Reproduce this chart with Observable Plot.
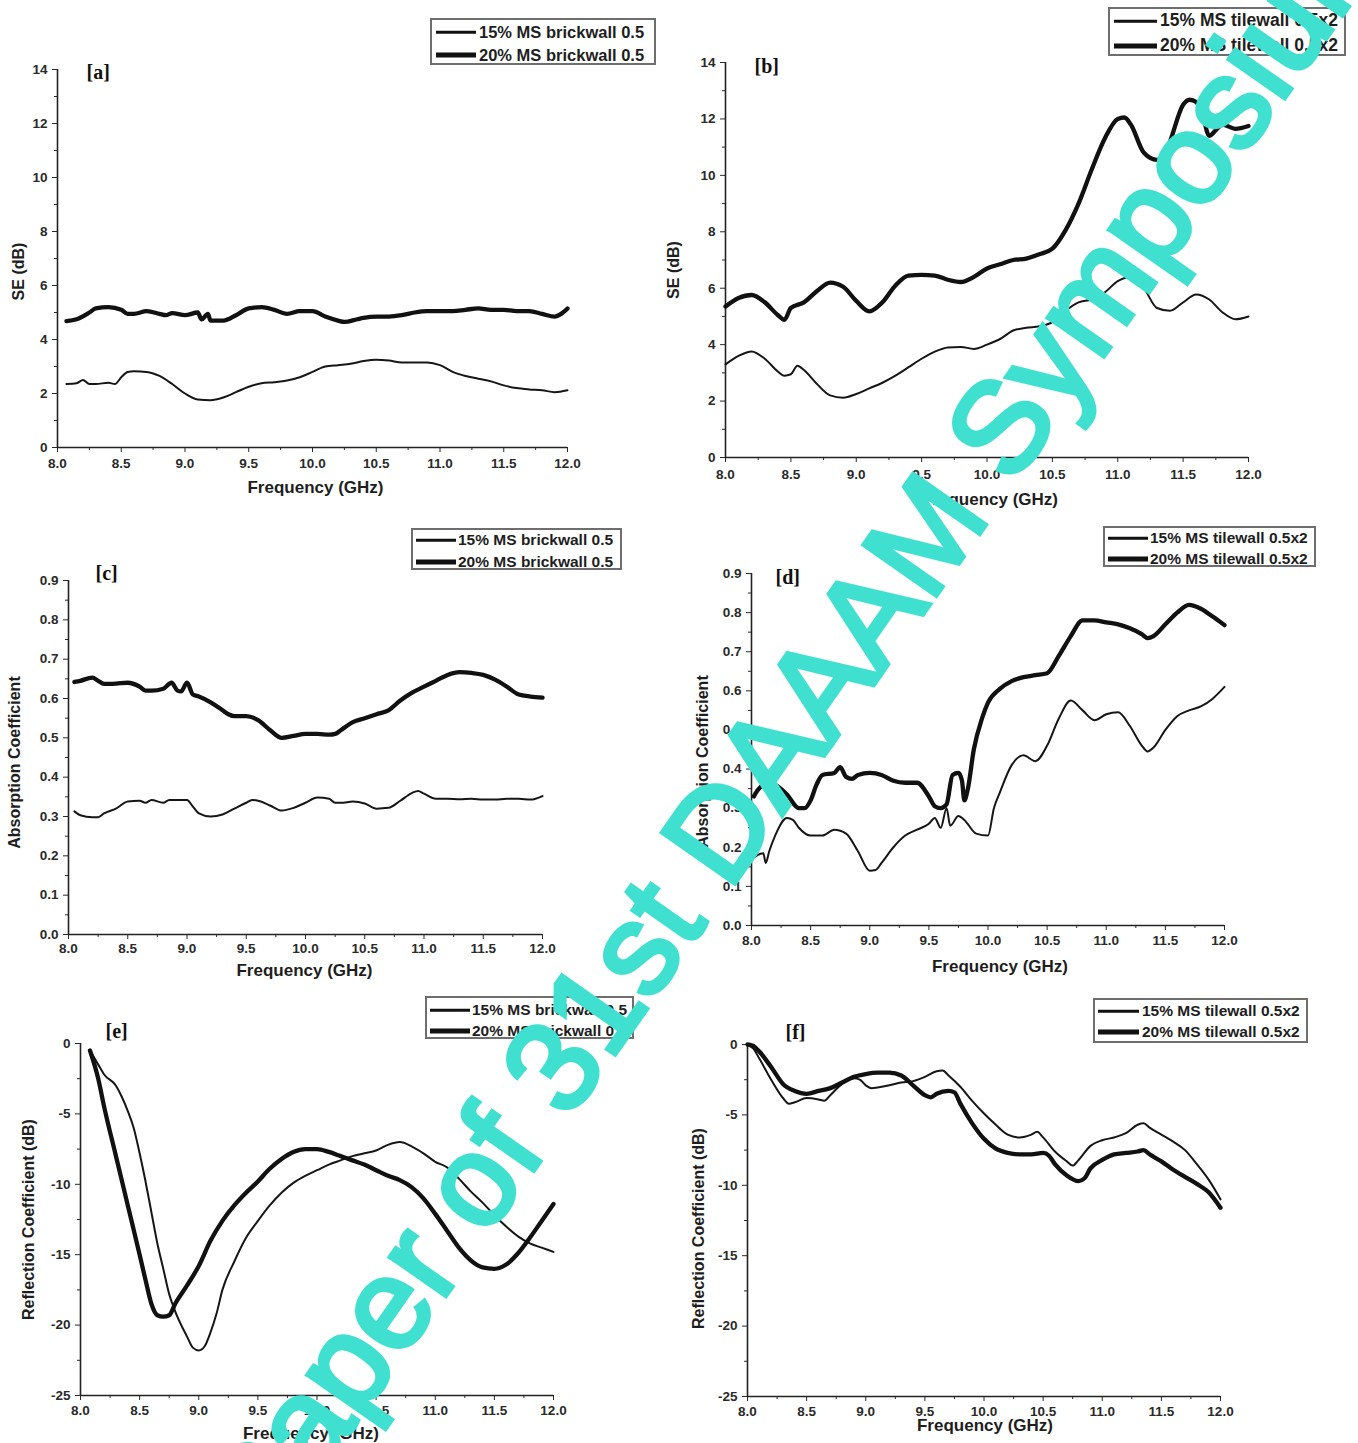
<!DOCTYPE html>
<html><head><meta charset="utf-8">
<script src="https://cdn.jsdelivr.net/npm/d3@7"></script>
<script src="https://cdn.jsdelivr.net/npm/@observablehq/plot@0.6"></script>
<style>
body{margin:0;background:#fff;}
#wrap{position:relative;width:1358px;height:1443px;overflow:hidden;background:#fff;font-family:"Liberation Sans",Arial,sans-serif;}
.panel{position:absolute;}
.legend{position:absolute;border:2px solid #6e6e6e;background:#fff;box-sizing:border-box;overflow:hidden;}
.row{position:absolute;white-space:nowrap;font-weight:bold;color:#1e1e1e;line-height:1;transform:translateY(-50%);}
.sw{position:absolute;background:#111;transform:translateY(-50%);}
#wm{position:absolute;left:0;top:0;pointer-events:none;}
</style></head><body><div id="wrap"></div>
<script>
// ---------- data ----------
const xMajor = [8.0, 8.5, 9.0, 9.5, 10.0, 10.5, 11.0, 11.5, 12.0];
const xMinor = [8.25, 8.75, 9.25, 9.75, 10.25, 10.75, 11.25, 11.75];
const seMajor = [0, 2, 4, 6, 8, 10, 12, 14];
const seMinor = [1, 3, 5, 7, 9, 11, 13];
const absMajor = [0, 0.1, 0.2, 0.3, 0.4, 0.5, 0.6, 0.7, 0.8, 0.9];
const absMinor = [0.05, 0.15, 0.25, 0.35, 0.45, 0.55, 0.65, 0.75, 0.85];
const refMajor = [0, -5, -10, -15, -20, -25];
const refMinor = [-2.5, -7.5, -12.5, -17.5, -22.5];

const brickLabels = ["15% MS brickwall 0.5", "20% MS brickwall 0.5"];
const tileLabels = ["15% MS tilewall 0.5x2", "20% MS tilewall 0.5x2"];

// [a] SE brickwall
const a15 = [[8.07,2.35],[8.15,2.38],[8.2,2.5],[8.25,2.35],[8.3,2.35],[8.4,2.4],[8.45,2.35],[8.5,2.6],[8.55,2.8],[8.6,2.82],[8.7,2.8],[8.8,2.65],[8.9,2.35],[9.0,2.0],[9.1,1.78],[9.2,1.75],[9.3,1.85],[9.4,2.05],[9.5,2.25],[9.6,2.38],[9.7,2.42],[9.8,2.48],[9.9,2.6],[10.0,2.8],[10.1,3.0],[10.2,3.05],[10.3,3.1],[10.4,3.2],[10.5,3.25],[10.6,3.22],[10.7,3.15],[10.8,3.15],[10.9,3.15],[11.0,3.05],[11.1,2.8],[11.2,2.65],[11.3,2.55],[11.4,2.45],[11.5,2.3],[11.6,2.2],[11.7,2.15],[11.8,2.12],[11.9,2.05],[12.0,2.12]];
const a20 = [[8.07,4.68],[8.15,4.75],[8.25,5.0],[8.3,5.15],[8.4,5.2],[8.5,5.1],[8.55,4.95],[8.6,4.95],[8.7,5.05],[8.8,4.95],[8.85,4.9],[8.9,4.98],[9.0,4.9],[9.1,5.0],[9.13,4.75],[9.18,4.95],[9.2,4.7],[9.3,4.7],[9.4,4.9],[9.5,5.15],[9.6,5.2],[9.7,5.1],[9.8,4.95],[9.9,5.05],[10.0,5.05],[10.1,4.85],[10.2,4.7],[10.25,4.65],[10.35,4.75],[10.4,4.8],[10.5,4.85],[10.6,4.85],[10.7,4.9],[10.8,5.0],[10.9,5.05],[11.0,5.05],[11.1,5.05],[11.2,5.1],[11.3,5.15],[11.4,5.1],[11.5,5.1],[11.6,5.05],[11.7,5.05],[11.8,4.95],[11.9,4.85],[11.95,4.95],[12.0,5.15]];

// [b] SE tilewall
const b15 = [[8.0,3.3],[8.1,3.6],[8.2,3.76],[8.3,3.5],[8.4,3.05],[8.45,2.9],[8.5,2.95],[8.55,3.25],[8.6,3.1],[8.7,2.6],[8.8,2.2],[8.9,2.12],[9.0,2.25],[9.1,2.45],[9.2,2.65],[9.3,2.9],[9.4,3.2],[9.5,3.5],[9.6,3.75],[9.7,3.9],[9.8,3.92],[9.9,3.85],[10.0,4.0],[10.1,4.2],[10.2,4.5],[10.3,4.6],[10.4,4.65],[10.5,4.8],[10.6,5.2],[10.7,5.5],[10.8,5.6],[10.9,5.85],[11.0,6.25],[11.1,6.4],[11.2,6.0],[11.3,5.3],[11.4,5.2],[11.5,5.5],[11.6,5.78],[11.7,5.6],[11.8,5.15],[11.9,4.9],[12.0,5.0]];
const b20 = [[8.0,5.35],[8.1,5.65],[8.2,5.76],[8.3,5.5],[8.4,5.05],[8.45,4.88],[8.5,5.3],[8.6,5.5],[8.7,5.9],[8.8,6.2],[8.9,6.05],[9.0,5.55],[9.1,5.18],[9.2,5.5],[9.3,6.1],[9.4,6.45],[9.5,6.47],[9.6,6.45],[9.7,6.3],[9.8,6.22],[9.9,6.4],[10.0,6.7],[10.1,6.85],[10.2,7.0],[10.3,7.05],[10.4,7.2],[10.5,7.4],[10.6,8.05],[10.7,9.0],[10.8,10.2],[10.9,11.3],[11.0,12.0],[11.05,12.05],[11.1,11.8],[11.2,10.8],[11.3,10.55],[11.35,10.6],[11.4,11.2],[11.5,12.5],[11.55,12.68],[11.6,12.6],[11.65,12.1],[11.7,11.4],[11.75,11.6],[11.8,11.8],[11.9,11.65],[12.0,11.75]];

// [c] absorption brickwall
const c15 = [[8.05,0.313],[8.1,0.303],[8.2,0.298],[8.25,0.298],[8.3,0.308],[8.4,0.32],[8.5,0.338],[8.6,0.34],[8.65,0.335],[8.7,0.342],[8.8,0.335],[8.85,0.342],[9.0,0.342],[9.05,0.325],[9.1,0.308],[9.2,0.3],[9.3,0.305],[9.4,0.32],[9.5,0.335],[9.55,0.342],[9.6,0.34],[9.7,0.328],[9.8,0.315],[9.9,0.322],[10.0,0.335],[10.1,0.348],[10.2,0.345],[10.25,0.335],[10.3,0.335],[10.4,0.338],[10.5,0.333],[10.6,0.32],[10.7,0.322],[10.8,0.34],[10.9,0.36],[10.95,0.365],[11.0,0.358],[11.1,0.345],[11.2,0.345],[11.3,0.344],[11.4,0.345],[11.5,0.343],[11.6,0.343],[11.7,0.345],[11.8,0.345],[11.9,0.343],[12.0,0.352]];
const c20 = [[8.05,0.642],[8.1,0.645],[8.2,0.653],[8.25,0.645],[8.3,0.637],[8.4,0.638],[8.5,0.64],[8.6,0.63],[8.65,0.62],[8.7,0.62],[8.8,0.625],[8.87,0.64],[8.92,0.62],[8.95,0.618],[9.0,0.64],[9.05,0.61],[9.1,0.605],[9.2,0.59],[9.3,0.57],[9.35,0.56],[9.4,0.555],[9.5,0.555],[9.6,0.545],[9.7,0.52],[9.8,0.5],[9.9,0.505],[10.0,0.51],[10.1,0.51],[10.2,0.508],[10.25,0.51],[10.3,0.52],[10.4,0.54],[10.5,0.55],[10.6,0.56],[10.7,0.57],[10.8,0.595],[10.9,0.615],[11.0,0.63],[11.1,0.645],[11.2,0.66],[11.3,0.667],[11.4,0.665],[11.5,0.66],[11.6,0.648],[11.7,0.63],[11.8,0.61],[11.9,0.605],[12.0,0.602]];

// [d] absorption tilewall
const d15 = [[8.02,0.173],[8.05,0.18],[8.1,0.185],[8.12,0.16],[8.15,0.19],[8.2,0.23],[8.3,0.275],[8.35,0.27],[8.4,0.25],[8.5,0.23],[8.6,0.23],[8.7,0.245],[8.8,0.235],[8.9,0.19],[9.0,0.14],[9.05,0.142],[9.1,0.16],[9.2,0.2],[9.3,0.23],[9.4,0.245],[9.5,0.26],[9.55,0.275],[9.6,0.25],[9.65,0.3],[9.68,0.255],[9.75,0.28],[9.8,0.27],[9.9,0.235],[10.0,0.23],[10.05,0.3],[10.1,0.34],[10.2,0.41],[10.3,0.435],[10.4,0.42],[10.5,0.46],[10.6,0.53],[10.7,0.575],[10.8,0.55],[10.9,0.525],[11.0,0.54],[11.1,0.545],[11.2,0.51],[11.3,0.46],[11.35,0.445],[11.4,0.455],[11.5,0.5],[11.6,0.535],[11.7,0.55],[11.8,0.56],[11.9,0.58],[12.0,0.61]];
const d20 = [[8.02,0.33],[8.05,0.345],[8.1,0.36],[8.15,0.365],[8.2,0.36],[8.3,0.335],[8.4,0.3],[8.45,0.3],[8.5,0.32],[8.55,0.36],[8.6,0.385],[8.7,0.39],[8.75,0.405],[8.8,0.38],[8.85,0.375],[8.9,0.385],[9.0,0.39],[9.1,0.385],[9.2,0.37],[9.3,0.365],[9.4,0.365],[9.5,0.33],[9.55,0.305],[9.6,0.3],[9.65,0.31],[9.7,0.385],[9.75,0.39],[9.78,0.37],[9.8,0.32],[9.83,0.35],[9.88,0.45],[9.95,0.53],[10.0,0.57],[10.1,0.605],[10.2,0.625],[10.3,0.635],[10.4,0.64],[10.5,0.645],[10.6,0.69],[10.7,0.74],[10.8,0.78],[10.9,0.78],[11.0,0.775],[11.1,0.77],[11.2,0.76],[11.3,0.745],[11.35,0.735],[11.4,0.74],[11.5,0.77],[11.6,0.8],[11.7,0.82],[11.8,0.81],[11.9,0.79],[12.0,0.768]];

// [e] reflection brickwall
const e15 = [[8.08,-0.5],[8.15,-1.5],[8.2,-2.2],[8.3,-3.0],[8.35,-3.8],[8.4,-4.8],[8.45,-6.0],[8.5,-7.8],[8.55,-9.8],[8.6,-12.0],[8.65,-14.2],[8.7,-16.0],[8.75,-17.8],[8.8,-19.0],[8.9,-20.8],[8.95,-21.6],[9.0,-21.8],[9.05,-21.5],[9.1,-20.5],[9.15,-19.2],[9.2,-17.5],[9.3,-15.5],[9.4,-13.8],[9.5,-12.6],[9.6,-11.5],[9.7,-10.6],[9.8,-9.9],[9.9,-9.4],[10.0,-9.0],[10.1,-8.6],[10.2,-8.3],[10.3,-8.0],[10.4,-7.8],[10.5,-7.6],[10.6,-7.2],[10.7,-7.0],[10.8,-7.3],[10.9,-7.8],[11.0,-8.4],[11.1,-8.8],[11.2,-9.6],[11.3,-10.5],[11.4,-11.3],[11.5,-12.2],[11.6,-13.0],[11.7,-13.7],[11.8,-14.2],[11.9,-14.5],[12.0,-14.8]];
const e20 = [[8.08,-0.5],[8.15,-2.5],[8.2,-4.5],[8.3,-8.0],[8.4,-11.5],[8.5,-15.0],[8.55,-16.8],[8.6,-18.5],[8.65,-19.3],[8.7,-19.4],[8.75,-19.3],[8.8,-18.5],[8.9,-17.2],[9.0,-15.8],[9.1,-14.0],[9.2,-12.6],[9.3,-11.5],[9.4,-10.6],[9.5,-9.8],[9.6,-8.9],[9.7,-8.2],[9.8,-7.7],[9.9,-7.5],[10.0,-7.5],[10.1,-7.7],[10.2,-8.0],[10.3,-8.3],[10.4,-8.6],[10.5,-9.0],[10.6,-9.4],[10.7,-9.7],[10.8,-10.2],[10.9,-11.0],[11.0,-12.1],[11.1,-13.3],[11.2,-14.5],[11.3,-15.4],[11.4,-15.9],[11.5,-16.0],[11.6,-15.7],[11.7,-14.9],[11.8,-13.8],[11.9,-12.6],[12.0,-11.4]];

// [f] reflection tilewall
const f15 = [[8.0,0],[8.05,-0.3],[8.1,-1.0],[8.2,-2.5],[8.3,-3.8],[8.35,-4.2],[8.4,-4.1],[8.5,-3.8],[8.6,-3.9],[8.65,-4.0],[8.7,-3.6],[8.8,-2.8],[8.9,-2.4],[8.95,-2.5],[9.0,-2.9],[9.05,-3.1],[9.1,-3.05],[9.2,-2.9],[9.3,-2.7],[9.4,-2.6],[9.5,-2.3],[9.6,-1.9],[9.65,-1.85],[9.7,-2.2],[9.8,-3.0],[9.9,-4.0],[10.0,-4.9],[10.1,-5.7],[10.2,-6.4],[10.3,-6.6],[10.4,-6.4],[10.45,-6.2],[10.5,-6.6],[10.6,-7.6],[10.7,-8.3],[10.75,-8.6],[10.8,-8.2],[10.9,-7.2],[11.0,-6.8],[11.1,-6.6],[11.2,-6.3],[11.3,-5.7],[11.35,-5.6],[11.4,-5.9],[11.5,-6.4],[11.6,-6.9],[11.7,-7.5],[11.8,-8.5],[11.9,-9.6],[12.0,-11.0]];
const f20 = [[8.0,0],[8.05,-0.1],[8.1,-0.5],[8.2,-1.6],[8.3,-2.8],[8.4,-3.3],[8.5,-3.5],[8.6,-3.3],[8.7,-3.1],[8.8,-2.7],[8.9,-2.3],[9.0,-2.1],[9.1,-2.0],[9.2,-2.0],[9.3,-2.2],[9.4,-2.9],[9.5,-3.6],[9.55,-3.75],[9.6,-3.5],[9.7,-3.3],[9.75,-3.4],[9.8,-4.2],[9.9,-5.6],[10.0,-6.7],[10.1,-7.4],[10.2,-7.7],[10.3,-7.8],[10.4,-7.8],[10.5,-7.7],[10.55,-7.9],[10.6,-8.5],[10.7,-9.3],[10.8,-9.7],[10.85,-9.5],[10.9,-8.8],[11.0,-8.2],[11.1,-7.8],[11.2,-7.7],[11.3,-7.6],[11.35,-7.5],[11.4,-7.8],[11.5,-8.3],[11.6,-8.9],[11.7,-9.4],[11.8,-9.9],[11.9,-10.5],[12.0,-11.6]];

// ---------- layout ----------
const fmt1 = d3.format(".1f");
const fmtInt = d => String(d);
const panels = [
  {tag:"[a]", thin:a15, thick:a20, yDomain:[0,14], yMajor:seMajor, yMinor:seMinor, yFmt:fmtInt, ytitle:"SE (dB)",
   box:[0,0,680,510], m:[69,113,63,57], tagD:[29,3], yT:[-39,13], xT:[3,40], xPad:6, legend:{box:[430,18,226,47], rows:[12,35], line:[4,40], text:47, fs:16.5, labels:brickLabels}},
  {tag:"[b]", thin:b15, thick:b20, yDomain:[0,14], yMajor:seMajor, yMinor:seMinor, yFmt:fmtInt, ytitle:"SE (dB)",
   box:[660,0,698,520], m:[62,110,63,65], tagD:[29,4], yT:[-52,10], xT:[3,42], xPad:7, legend:{box:[1108,7,238,49], rows:[12,37], line:[4,43], text:50, fs:17.5, labels:tileLabels}},
  {tag:"[c]", thin:c15, thick:c20, yDomain:[0,0.9], yMajor:absMajor, yMinor:absMinor, yFmt:fmt1, ytitle:"Absorption Coefficient",
   box:[0,520,680,470], m:[60,138,56,68], tagD:[27,-7], yT:[-54,5], xT:[-1,36], xPad:4, legend:{box:[411,528,211,42], rows:[10,32], line:[3,40], text:45, fs:15.5, labels:brickLabels}},
  {tag:"[d]", thin:d15, thick:d20, yDomain:[0,0.9], yMajor:absMajor, yMinor:absMinor, yFmt:fmt1, ytitle:"Absorption Coefficient",
   box:[680,520,678,470], m:[53,134,65,71], tagD:[24,4], yT:[-49,12], xT:[12,41], xPad:5, legend:{box:[1103,526,213,41], rows:[10,31], line:[3,40], text:45, fs:15.5, labels:tileLabels}},
  {tag:"[e]", thin:e15, thick:e20, yDomain:[-25,0], yMajor:refMajor, yMinor:refMinor, yFmt:fmtInt, ytitle:"Reflection Coefficient (dB)",
   box:[0,990,680,453], m:[53,127,48,80], tagD:[25,-12], yT:[-52,0], xT:[-6,38], xPad:5, legend:{box:[425,996,209,43], rows:[12,33], line:[3,40], text:45, fs:15.5, labels:brickLabels}},
  {tag:"[f]", thin:f15, thick:f20, yDomain:[-25,0], yMajor:refMajor, yMinor:refMinor, yFmt:fmtInt, ytitle:"Reflection Coefficient (dB)",
   box:[680,990,678,453], m:[54,138,47,67], tagD:[38,-12], yT:[-49,8], xT:[1,29], xPad:5, legend:{box:[1093,998,215,45], rows:[11,32], line:[3,41], text:47, fs:15.5, labels:tileLabels}}
];

const wrap = document.getElementById("wrap");
const FONT = "Liberation Sans, Arial, sans-serif";

for (const p of panels) {
  const thin = p.thin.map(([x, y]) => ({x, y}));
  const thick = p.thick.map(([x, y]) => ({x, y}));
  const [bl, bt, bw, bh] = p.box;
  const [mt, mr, mb, ml] = p.m;
  const svg = Plot.plot({
    width: bw, height: bh,
    marginTop: mt, marginRight: mr, marginBottom: mb, marginLeft: ml,
    style: {background: "transparent", fontFamily: FONT, color: "#2a2a2a", overflow: "visible"},
    x: {domain: [8, 12]},
    y: {domain: p.yDomain},
    marks: [
      Plot.axisX({ticks: xMajor, tickSize: 5, tickPadding: p.xPad, tickFormat: fmt1, fontSize: 13.5, fontWeight: "bold", label: null}),
      Plot.axisX({ticks: xMinor, tickSize: 3, tickFormat: () => "", label: null}),
      Plot.axisY({ticks: p.yMajor, tickSize: 5, tickPadding: 5, tickFormat: p.yFmt, fontSize: 13.5, fontWeight: "bold", label: null}),
      Plot.axisY({ticks: p.yMinor, tickSize: 3, tickFormat: () => "", label: null}),
      Plot.ruleX([8], {stroke: "#222", strokeWidth: 1.6}),
      Plot.ruleY([p.yDomain[0]], {stroke: "#222", strokeWidth: 1.6}),
      Plot.line(thin, {x: "x", y: "y", stroke: "#161616", strokeWidth: 2, curve: "monotone-x"}),
      Plot.line(thick, {x: "x", y: "y", stroke: "#111", strokeWidth: 4.3, curve: "monotone-x"}),
      Plot.text([p.tag], {text: d => d, frameAnchor: "top-left", dx: p.tagD[0], dy: p.tagD[1], textAnchor: "start", lineAnchor: "middle",
        fontFamily: "Liberation Serif, DejaVu Serif, serif", fontWeight: "bold", fontSize: 20, fill: "#111"}),
      Plot.text([p.ytitle], {text: d => d, frameAnchor: "left", dx: p.yT[0], dy: p.yT[1], rotate: -90, textAnchor: "middle", lineAnchor: "middle",
        fontSize: 16, fontWeight: "bold", fill: "#1e1e1e"}),
      Plot.text(["Frequency (GHz)"], {text: d => d, frameAnchor: "bottom", dx: p.xT[0], dy: p.xT[1], textAnchor: "middle", lineAnchor: "middle",
        fontSize: 17, fontWeight: "bold", fill: "#1e1e1e"})
    ]
  });
  svg.classList.add("panel");
  svg.style.left = bl + "px";
  svg.style.top = bt + "px";
  wrap.appendChild(svg);

  // legend box
  const L = p.legend;
  const lg = document.createElement("div");
  lg.className = "legend";
  Object.assign(lg.style, {left: L.box[0] + "px", top: L.box[1] + "px", width: L.box[2] + "px", height: L.box[3] + "px"});
  L.labels.forEach((lab, i) => {
    const sw = document.createElement("div");
    sw.className = "sw";
    Object.assign(sw.style, {left: L.line[0] + "px", top: L.rows[i] + "px", width: L.line[1] + "px", height: (i === 0 ? 2.5 : 5) + "px"});
    lg.appendChild(sw);
    const t = document.createElement("div");
    t.className = "row";
    t.textContent = lab;
    Object.assign(t.style, {left: L.text + "px", top: L.rows[i] + "px", fontSize: L.fs + "px"});
    lg.appendChild(t);
  });
  wrap.appendChild(lg);
}

// watermark
const NS = "http://www.w3.org/2000/svg";
const wm = document.createElementNS(NS, "svg");
wm.setAttribute("id", "wm");
wm.setAttribute("width", 1358);
wm.setAttribute("height", 1443);
const tx = document.createElementNS(NS, "text");
tx.setAttribute("transform", "translate(268,1550) rotate(-55)");
tx.setAttribute("font-family", "Liberation Sans, Arial, sans-serif");
tx.setAttribute("font-size", 129);
tx.setAttribute("fill", "#40E0D0");
tx.setAttribute("stroke", "#40E0D0");
tx.setAttribute("stroke-width", 4.5);
tx.setAttribute("stroke-linejoin", "miter");
tx.textContent = "Paper of 31st DAAAM Symposium";
wm.appendChild(tx);
wrap.appendChild(wm);
</script></body></html>
